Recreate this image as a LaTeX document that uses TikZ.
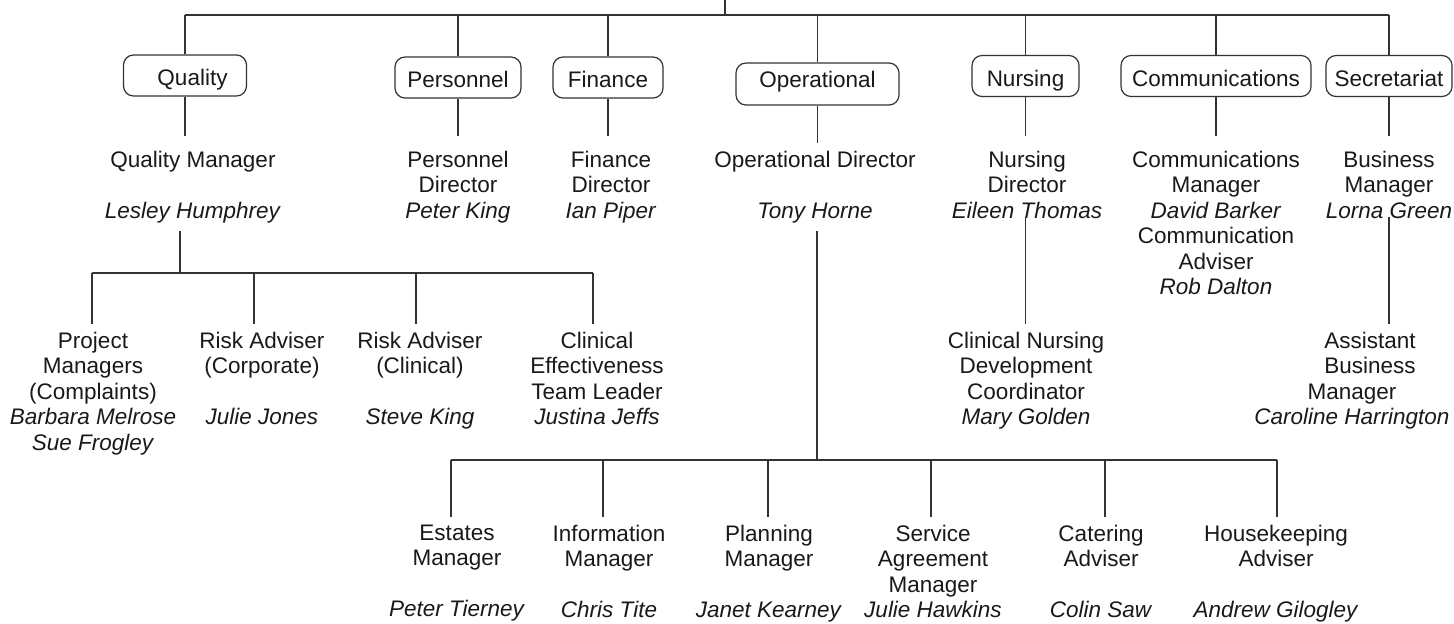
\documentclass[tikz,border=0pt]{standalone}
\usepackage{fontspec}
\setmainfont{Liberation Sans}

\begin{document}
\begin{tikzpicture}[x=0.5pt,y=-0.5pt,
  every node/.style={font=\fontsize{11.25}{12.75}\selectfont,text=black!90},
  dept/.style={draw=black!80,line width=0.6pt,rounded corners=5pt,minimum height=20.5pt,
    inner xsep=3pt,text height=10pt,text depth=0pt},
  post/.style={align=center,inner sep=0pt,outer sep=4pt,anchor=north},
  link/.style={draw=black!80,line width=0.6pt}]
 \useasboundingbox (0,0) rectangle (1454,623);

 \node[dept,minimum width=61.5pt] (quality) at (185,75.5) {\hspace*{7.5pt}Quality};
 \node[dept,minimum width=63pt] (personnel) at (458,77.5) {Personnel};
 \node[dept,minimum width=55pt] (finance) at (608,77.5) {Finance};
 \node[dept,minimum width=81.5pt,minimum height=21pt,text height=8pt,text depth=5pt]
   (operational) at (817.5,84) {Operational};
 \node[dept,minimum width=53.5pt] (nursing) at (1025.5,76) {Nursing};
 \node[dept,minimum width=95pt] (comms) at (1216,76) {Communications};
 \node[dept,minimum width=63pt] (secretariat) at (1389,76) {Secretariat};

 \coordinate (up) at (725,0);
 \coordinate (bus) at (725,15);
 \draw[link] (up) -- (bus);
 \draw[link] (bus -| quality) -- (bus -| secretariat);
 \foreach \d in {quality,personnel,finance,operational,nursing,comms,secretariat}
   \draw[link] (bus -| \d) -- (\d);

 \node[post] (qmgr) at (193,143) {Quality Manager\\[12.75pt]\textit{Lesley Humphrey}};
 \node[post] (pdir) at (458,143) {Personnel\\Director\\\textit{Peter King}};
 \node[post] (fdir) at (611,143) {Finance\\Director\\\textit{Ian Piper}};
 \node[post] (odir) at (815,143) {Operational Director\\[12.75pt]\textit{Tony Horne}};
 \node[post] (ndir) at (1027,143) {Nursing\\Director\\\textit{Eileen Thomas}};
 \node[post] (cmgr) at (1216,143) {Communications\\Manager\\\textit{David Barker}\\
   Communication\\Adviser\\\textit{Rob Dalton}};
 \node[post] (bmgr) at (1389,143) {Business\\Manager\\\textit{Lorna Green}};

 \draw[link,shorten >=3.5pt] (quality) -- (quality |- qmgr.north);
 \draw[link,shorten >=3.5pt] (personnel) -- (personnel |- pdir.north);
 \draw[link,shorten >=3.5pt] (finance) -- (finance |- fdir.north);
 \draw[link] (operational) -- (operational |- odir.north);
 \draw[link,shorten >=3.5pt] (nursing) -- (nursing |- ndir.north);
 \draw[link,shorten >=3.5pt] (comms) -- (comms |- cmgr.north);
 \draw[link,shorten >=3.5pt] (secretariat) -- (secretariat |- bmgr.north);

 \node[post] (pm) at (93,324) {Project\\Managers\\(Complaints)\\\textit{Barbara Melrose}\\\textit{Sue Frogley}};
 \node[post] (rac) at (262,324) {Risk Adviser\\(Corporate)\\[12.75pt]\textit{Julie Jones}};
 \node[post] (racl) at (420,324) {Risk Adviser\\(Clinical)\\[12.75pt]\textit{Steve King}};
 \node[post] (ce) at (597,324) {Clinical\\Effectiveness\\Team Leader\\\textit{Justina Jeffs}};
 \node[post] (cnd) at (1026,324) {Clinical Nursing\\Development\\Coordinator\\\textit{Mary Golden}};
 \node[post] (abm) at (1352,324) {\hspace*{18pt}Assistant\\\hspace*{18pt}Business\\Manager\\
   \textit{Caroline Harrington}};

 \coordinate (qbus) at (180,273);
 \draw[link] (qbus |- qmgr.south) -- (qbus);
 \draw[link] (92,273) -- (593,273);
 \foreach \n/\x in {pm/92,rac/254,racl/416,ce/593}
   \draw[link] (\x,273) -- (\x,0 |- \n.north);

 \draw[link,shorten <=-5pt] (nursing |- ndir.south) -- (nursing |- cnd.north);
 \draw[link,shorten <=-5pt] (secretariat |- bmgr.south) -- (secretariat |- abm.north);

 \node[post] (est) at (457,517) {Estates\\Manager\\[12.75pt]\textit{Peter Tierney}};
 \node[post] (info) at (609,517) {Information\\Manager\\[12.75pt]\textit{Chris Tite}};
 \node[post] (plan) at (769,517) {Planning\\Manager\\[12.75pt]\textit{Janet Kearney}};
 \node[post] (sam) at (933,517) {Service\\Agreement\\Manager\\\textit{Julie Hawkins}};
 \node[post] (cat) at (1101,517) {Catering\\Adviser\\[12.75pt]\textit{Colin Saw}};
 \node[post] (hk) at (1276,517) {Housekeeping\\Adviser\\[12.75pt]\textit{Andrew Gilogley}};

 \coordinate (obus) at (817,460);
 \draw[link] (obus |- odir.south) -- (obus);
 \draw[link] (451,460) -- (1277,460);
 \foreach \n/\x in {est/451,info/603,plan/768,sam/931,cat/1105,hk/1277}
   \draw[link] (\x,460) -- (\x,0 |- \n.north);
\end{tikzpicture}
\end{document}
